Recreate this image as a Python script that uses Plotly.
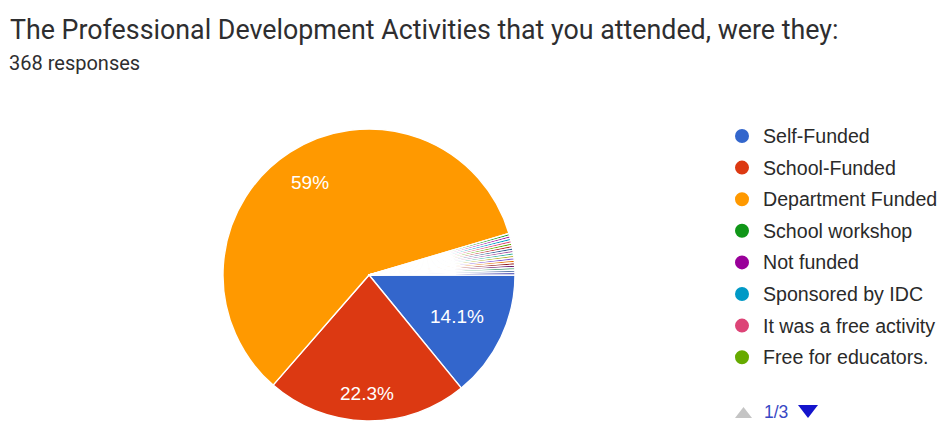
import math
import plotly.graph_objects as go

# Survey: "The Professional Development Activities that you attended, were they:"
title_text = "The Professional Development Activities that you attended, were they:"
subtitle_text = "368 responses"

legend_labels = [
    "Self-Funded",
    "School-Funded",
    "Department Funded",
    "School workshop",
    "Not funded",
    "Sponsored by IDC",
    "It was a free activity",
    "Free for educators.",
]
other_labels = [f"Other response {i}" for i in range(1, 13)]
labels = legend_labels + other_labels

# share of responses, in percent (single responses are ~0.27% each)
shares = [14.1, 22.3, 59.0] + [0.27] * 17

colors = [
    "#3366cc", "#dc3912", "#ff9900", "#109618", "#990099", "#0099c6",
    "#dd4477", "#66aa00", "#b82e2e", "#316395", "#994499", "#22aa99",
    "#aaaa11", "#6633cc", "#e67300", "#8b0707", "#651067", "#329262",
    "#5574a6", "#3b3eac",
]

page_text = "1/3"

W, H = 939, 421
TOP, BOTTOM = 129, 0
PLOT_H = H - TOP - BOTTOM

# pie geometry in pixels
CX, CY, R = 369, 275, 146
START_DEG = 90  # first slice starts at 3 o'clock, runs clockwise


def py(ypx):
    """pixel row -> paper y"""
    return (H - BOTTOM - ypx) / PLOT_H


def px(xpx):
    return xpx / W


fig = go.Figure(
    go.Pie(
        labels=labels,
        values=shares,
        textinfo="none",
        marker=dict(colors=colors, line=dict(color="white", width=1.4)),
        sort=False,
        direction="clockwise",
        rotation=START_DEG,
        showlegend=False,
        domain=dict(x=[px(CX - R), px(CX + R)], y=[0, 1]),
        hoverinfo="label+percent",
    )
)

annotations = [
    dict(x=px(8), y=py(30), xref="paper", yref="paper", xanchor="left", yanchor="middle",
         text=title_text, showarrow=False,
         font=dict(family="Roboto, Arial", size=26.8, color="#2e2e30")),
    dict(x=px(7), y=py(63), xref="paper", yref="paper", xanchor="left", yanchor="middle",
         text=subtitle_text, showarrow=False,
         font=dict(family="Roboto, Arial", size=20, color="#2e2e30")),
]
shapes = []

# percentage labels placed along each large slice's bisector
label_radius = [0.67, 0.81, 0.75]
total = sum(shares)
acc = 0.0
for i, v in enumerate(shares):
    mid = acc + v / 2
    acc += v
    if v < 5:
        continue
    ang = math.radians(START_DEG + 360 * mid / total)  # compass angle
    rr = R * label_radius[i]
    lx = CX + rr * math.sin(ang)
    ly = CY - rr * math.cos(ang)
    annotations.append(dict(x=px(lx), y=py(ly), xref="paper", yref="paper",
                            xanchor="center", yanchor="middle", text=f"{v:g}%",
                            showarrow=False,
                            font=dict(family="Arial, Liberation Sans", size=19, color="white")))

# legend (first page of eight entries)
row0, row_gap = 136, 31.6
for i, name in enumerate(legend_labels):
    yc = row0 + i * row_gap
    shapes.append(dict(type="circle", xref="paper", yref="paper",
                       x0=px(735), x1=px(749), y0=py(yc + 7), y1=py(yc - 7),
                       fillcolor=colors[i], line=dict(width=0)))
    annotations.append(dict(x=px(761), y=py(yc), xref="paper", yref="paper",
                            xanchor="left", yanchor="middle", text=name, showarrow=False,
                            font=dict(family="Arial, Liberation Sans", size=19.6, color="#2a2a2a")))


def tri(points):
    d = "M " + " L ".join(f"{px(x)},{py(y)}" for x, y in points) + " Z"
    return d


# pager: up arrow (inactive), page counter, down arrow
shapes.append(dict(type="path", xref="paper", yref="paper",
                   path=tri([(735, 418), (752, 418), (743.5, 407)]),
                   fillcolor="#c4c4c4", line=dict(width=0)))
shapes.append(dict(type="path", xref="paper", yref="paper",
                   path=tri([(798, 405), (818, 405), (808, 418)]),
                   fillcolor="#1414cc", line=dict(width=0)))
annotations.append(dict(x=px(762), y=py(412), xref="paper", yref="paper",
                        xanchor="left", yanchor="middle", text=page_text, showarrow=False,
                        font=dict(family="Arial, Liberation Sans", size=17.5, color="#3848c4")))

fig.update_layout(
    width=W, height=H,
    margin=dict(l=0, r=0, t=TOP, b=BOTTOM),
    paper_bgcolor="white", plot_bgcolor="white",
    annotations=annotations, shapes=shapes,
)

fig.write_html("out.html")
